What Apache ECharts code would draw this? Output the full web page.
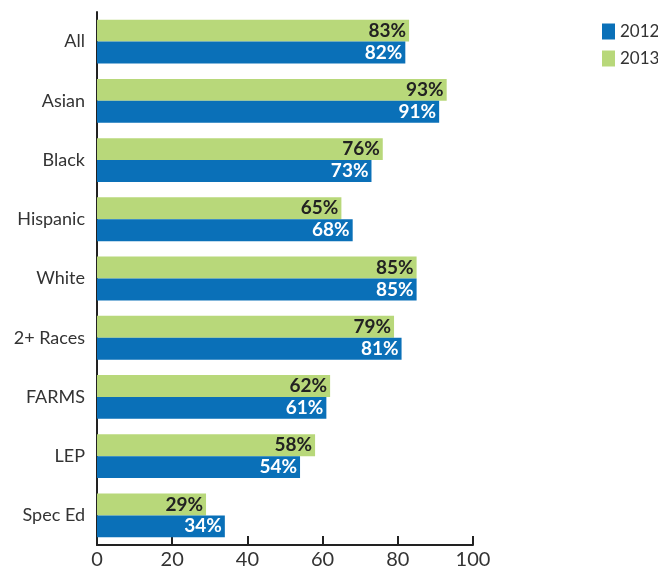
<!DOCTYPE html>
<html><head><meta charset="utf-8">
<script src="https://cdn.jsdelivr.net/npm/echarts@6/dist/echarts.min.js"></script>
<style>html,body{margin:0;padding:0;background:#fff}#c{width:658px;height:574px}</style>
</head><body><div id="c"></div>
<script>
var categories = ["All","Asian","Black","Hispanic","White","2+ Races","FARMS","LEP","Spec Ed"];
var values2012 = [82,91,73,68,85,81,61,54,34];
var values2013 = [83,93,76,65,85,79,62,58,29];
var xTicks = [0,20,40,60,80,100];

var chart = echarts.init(document.getElementById('c'));
var font = 'Lato, "Open Sans", sans-serif';
chart.setOption({
  animation:false,
  textStyle:{fontFamily:font},
  legend:{
    data:['2012','2013'], orient:'vertical', left:597, top:18,
    icon:'rect', itemWidth:13, itemHeight:16, itemGap:10,
    textStyle:{fontSize:17,color:'#333',fontFamily:font}
  },
  grid:{left:97, top:12, width:376, height:533, containLabel:false},
  xAxis:{
    type:'value', min:xTicks[0], max:xTicks[xTicks.length-1], interval:20,
    axisLine:{show:true,lineStyle:{color:'#222',width:2}},
    axisTick:{show:true,inside:true,length:9,lineStyle:{color:'#222',width:2}},
    splitLine:{show:false},
    axisLabel:{fontSize:20,color:'#333',margin:5,fontFamily:font}
  },
  yAxis:{
    type:'category', data:categories, inverse:true,
    axisLine:{show:true,lineStyle:{color:'#222',width:2}},
    axisTick:{show:false},
    axisLabel:{fontSize:18,color:'#333',margin:12,fontFamily:font}
  },
  series:[
    {name:'2013', type:'bar', data:values2013, barGap:'0%', barCategoryGap:'26%',
     itemStyle:{color:'#b8d87a'},
     label:{show:true,position:'insideRight',formatter:'{c}%',color:'#222',fontSize:19,fontWeight:'bold',distance:3,fontFamily:font}},
    {name:'2012', type:'bar', data:values2012, barGap:'0%', barCategoryGap:'26%',
     itemStyle:{color:'#0a70b8'},
     label:{show:true,position:'insideRight',formatter:'{c}%',color:'#fff',fontSize:19,fontWeight:'bold',distance:3,fontFamily:font}}
  ]
});
</script></body></html>
